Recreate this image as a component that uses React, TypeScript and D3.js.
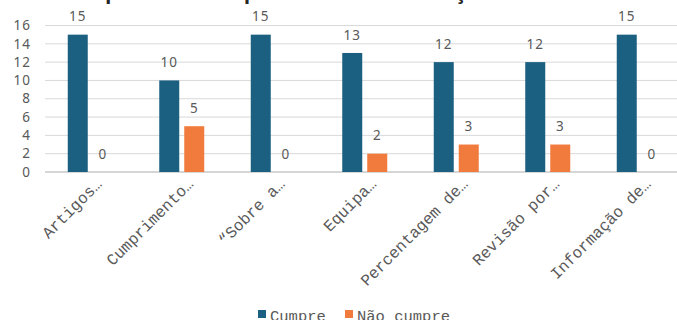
import React from "react";
import * as d3 from "d3";

const categories = ["Artigos…", "Cumprimento…", "“Sobre a…", "Equipa…", "Percentagem de…", "Revisão por…", "Informação de…"];
const cumpre = [15, 10, 15, 13, 12, 12, 15];
const naoCumpre = [0, 5, 0, 2, 3, 3, 0];
const seriesNames = ["Cumpre", "Não cumpre"];
const yTicks = [0, 2, 4, 6, 8, 10, 12, 14, 16];
const title = "Cumprimento dos parâmetros de avaliação";

const W = 677;
const H = 320;
const BLUE = "#1B6081";
const ORANGE = "#F07B3D";
const TEXT = "#595959";

export default function App() {
  const x0 = d3.scaleBand<string>().domain(categories).range([44.5, 685]).paddingInner(0).paddingOuter(0);
  const x1 = d3.scaleBand<string>().domain(seriesNames).range([-22.5, 22.5]).paddingInner(0.2).paddingOuter(0);
  const y = d3.scaleLinear().domain([0, 16]).range([172, 25.5]);
  const series = [cumpre, naoCumpre];
  const colors = [BLUE, ORANGE];
  const mono = "'Liberation Mono', 'DejaVu Sans Mono', monospace";
  const sans = "'Noto Sans', 'Open Sans', sans-serif";

  return (
    <svg width={W} height={H} style={{ position: "absolute", left: 0, top: 0, display: "block" }}>
      <rect width={W} height={H} fill="#fff" />
      <text x={60} y={-1.5} textAnchor="start" fontFamily={sans} fontWeight={700} fontSize={20} fill="#262626">
        {title}
      </text>
      {yTicks.map((t) => (
        <g key={t}>
          <line x1={45} x2={W} y1={y(t)} y2={y(t)} stroke={t === 0 ? "#C8C8C8" : "#D9D9D9"} strokeWidth={t === 0 ? 1.5 : 1} />
          <text x={31} y={y(t)} dy="0.35em" textAnchor="end" fontFamily={sans} fontSize={13.5} fill={TEXT} letterSpacing={1}>
            {t}
          </text>
        </g>
      ))}
      {categories.map((c, i) => {
        const cx = (x0(c) as number) + x0.bandwidth() / 2;
        return (
          <g key={c}>
            {series.map((s, k) => {
              const bx = cx + (x1(seriesNames[k]) as number);
              const v = s[i];
              return (
                <g key={k}>
                  <rect x={bx} y={y(v)} width={x1.bandwidth()} height={y(0) - y(v)} fill={colors[k]} />
                  <text x={bx + x1.bandwidth() / 2} y={y(v) - 18} dy="0.35em" textAnchor="middle" fontFamily={sans} fontSize={13.5} fill={TEXT} letterSpacing={1}>
                    {v}
                  </text>
                </g>
              );
            })}
            <text
              transform={`translate(${cx + 12.5},${185}) rotate(-45)`}
              textAnchor="end"
              fontFamily={mono}
              fontSize={16}
              fill={TEXT}
            >
              {c}
            </text>
          </g>
        );
      })}
      <g>
        <rect x={258} y={310} width={8} height={8} fill={BLUE} />
        <text x={270} y={321} fontFamily={mono} fontSize={15.5} fill={TEXT}>{seriesNames[0]}</text>
        <rect x={345} y={310} width={8} height={8} fill={ORANGE} />
        <text x={357} y={321} fontFamily={mono} fontSize={15.5} fill={TEXT}>{seriesNames[1]}</text>
      </g>
    </svg>
  );
}
